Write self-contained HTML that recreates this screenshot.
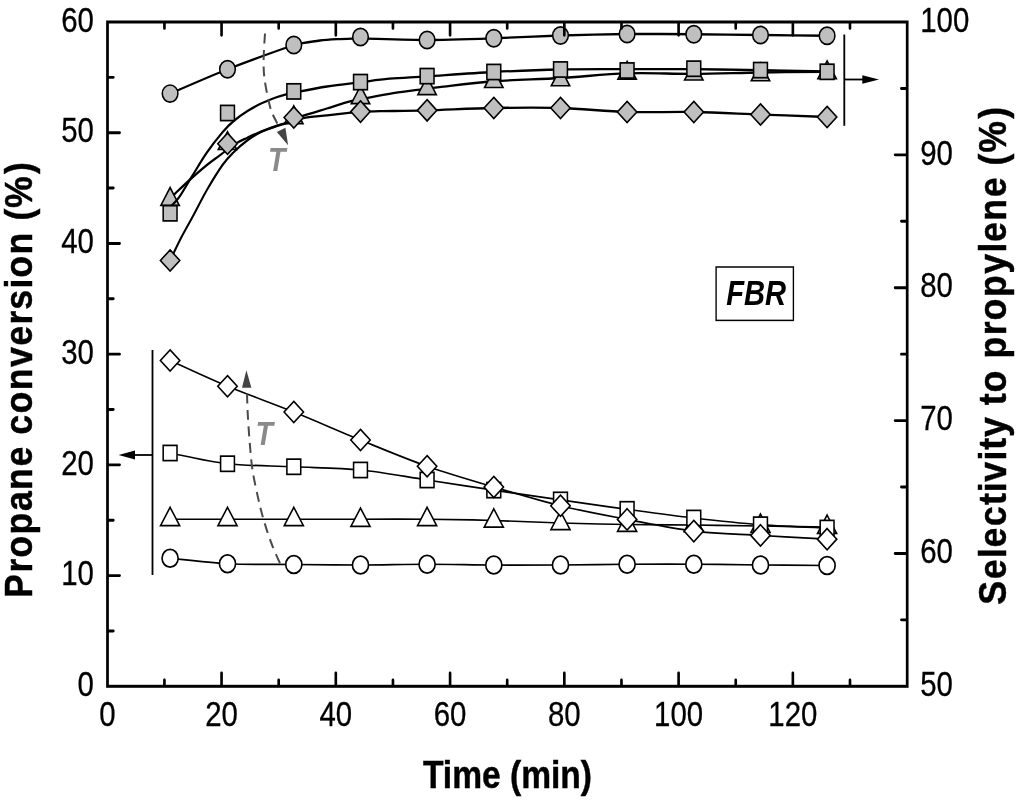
<!DOCTYPE html>
<html lang="en">
<head>
<meta charset="utf-8">
<title>Propane conversion and selectivity to propylene vs time (FBR)</title>
<style>
html,body{margin:0;padding:0;background:#fff;}
body{width:1024px;height:801px;overflow:hidden;}
svg text{font-family:"Liberation Sans",Arial,Helvetica,sans-serif;}
</style>
</head>
<body>
<svg width="1024" height="801" viewBox="0 0 1024 801" style="display:block">
<rect width="1024" height="801" fill="#fff"/>
<g transform="scale(0.91,1)">
<path d="M186.92 93.6 C194.28 90.76 234.14 74.92 250 69.25 C265.86 63.58 313.25 48.04 322.86 45 C332.46 41.96 328.95 43.73 332.31 43.2 C335.67 42.68 347.15 40.97 351.65 40.5 C356.15 40.03 366.75 39.42 370.88 39.2 C375.01 38.98 384.08 38.69 387.03 38.6 C389.98 38.51 386.55 38.24 396.15 38.4 C405.76 38.56 452.25 40.02 469.34 40 C486.43 39.98 525.53 38.77 542.64 38.25 C559.74 37.73 598.84 36 615.93 35.5 C633.02 35 672.03 34.15 689.12 34 C706.21 33.85 745.32 34.13 762.42 34.25 C779.52 34.37 818.62 34.83 835.71 35 C852.8 35.17 900.36 35.66 908.9 35.75" fill="none" stroke="#000" stroke-width="2.3" />
<circle cx="186.92" cy="93.6" r="8.6" fill="#bfbfbf" stroke="#000" stroke-width="1.7"/>
<circle cx="250" cy="69.25" r="8.6" fill="#bfbfbf" stroke="#000" stroke-width="1.7"/>
<circle cx="322.86" cy="45" r="8.6" fill="#bfbfbf" stroke="#000" stroke-width="1.7"/>
<circle cx="396.15" cy="37" r="8.6" fill="#bfbfbf" stroke="#000" stroke-width="1.7"/>
<circle cx="469.34" cy="40" r="8.6" fill="#bfbfbf" stroke="#000" stroke-width="1.7"/>
<circle cx="542.64" cy="38.25" r="8.6" fill="#bfbfbf" stroke="#000" stroke-width="1.7"/>
<circle cx="615.93" cy="35.5" r="8.6" fill="#bfbfbf" stroke="#000" stroke-width="1.7"/>
<circle cx="689.12" cy="34" r="8.6" fill="#bfbfbf" stroke="#000" stroke-width="1.7"/>
<circle cx="762.42" cy="34.25" r="8.6" fill="#bfbfbf" stroke="#000" stroke-width="1.7"/>
<circle cx="835.71" cy="35" r="8.6" fill="#bfbfbf" stroke="#000" stroke-width="1.7"/>
<circle cx="908.9" cy="35.75" r="8.6" fill="#bfbfbf" stroke="#000" stroke-width="1.7"/>
<path d="M186.92 198.5 C187.93 197.6 189.09 196.43 192.97 193.1 C196.84 189.77 204.43 183.18 210.16 178.5 C215.9 173.82 222.21 168.82 227.36 165 C232.52 161.18 235.66 159.25 241.1 155.6 C246.54 151.95 254.85 146.08 260 143.1 C265.15 140.12 267.4 139.65 271.98 137.7 C276.56 135.75 282.03 133.42 287.47 131.4 C292.91 129.38 299.47 127.18 304.62 125.6 C309.76 124.02 315.31 122.83 318.35 121.9 C321.39 120.97 320.35 121.03 322.86 120 C325.37 118.97 327.34 117.62 333.41 115.7 C339.47 113.78 350.49 110.92 359.23 108.5 C367.97 106.08 378.1 103 385.82 101.2 C393.55 99.4 398.59 98.93 405.6 97.7 C412.62 96.47 419.05 95.1 427.91 93.8 C436.78 92.5 449.63 91.02 458.79 89.9 C467.95 88.78 468.88 88.54 482.86 87.1 C496.83 85.66 520.46 82.77 542.64 81.25 C564.82 79.73 591.52 79.31 615.93 78 C640.35 76.69 664.71 74.1 689.12 73.4 C713.53 72.7 737.99 73.95 762.42 73.8 C786.85 73.65 811.3 72.83 835.71 72.5 C860.13 72.17 896.7 71.92 908.9 71.8" fill="none" stroke="#000" stroke-width="2.3" />
<path d="M186.92 187.5 L197.02 205.3 L176.82 205.3Z" fill="#bfbfbf" stroke="#000" stroke-width="1.7" stroke-linejoin="miter"/>
<path d="M250 131.7 L260.1 149.5 L239.9 149.5Z" fill="#bfbfbf" stroke="#000" stroke-width="1.7" stroke-linejoin="miter"/>
<path d="M322.86 105.8 L332.96 123.6 L312.76 123.6Z" fill="#bfbfbf" stroke="#000" stroke-width="1.7" stroke-linejoin="miter"/>
<path d="M396.15 85.9 L406.25 103.7 L386.05 103.7Z" fill="#bfbfbf" stroke="#000" stroke-width="1.7" stroke-linejoin="miter"/>
<path d="M469.34 76.8 L479.44 94.6 L459.24 94.6Z" fill="#bfbfbf" stroke="#000" stroke-width="1.7" stroke-linejoin="miter"/>
<path d="M542.64 69.7 L552.74 87.5 L532.54 87.5Z" fill="#bfbfbf" stroke="#000" stroke-width="1.7" stroke-linejoin="miter"/>
<path d="M615.93 67.95 L626.03 85.75 L605.83 85.75Z" fill="#bfbfbf" stroke="#000" stroke-width="1.7" stroke-linejoin="miter"/>
<path d="M689.12 61.45 L699.22 79.25 L679.02 79.25Z" fill="#bfbfbf" stroke="#000" stroke-width="1.7" stroke-linejoin="miter"/>
<path d="M762.42 62.2 L772.52 80 L752.32 80Z" fill="#bfbfbf" stroke="#000" stroke-width="1.7" stroke-linejoin="miter"/>
<path d="M835.71 62.95 L845.81 80.75 L825.61 80.75Z" fill="#bfbfbf" stroke="#000" stroke-width="1.7" stroke-linejoin="miter"/>
<path d="M908.9 60.95 L919 78.75 L898.8 78.75Z" fill="#bfbfbf" stroke="#000" stroke-width="1.7" stroke-linejoin="miter"/>
<path d="M186.92 207 C188.51 205.47 192.55 202.72 196.43 197.8 C200.3 192.88 205.01 185.05 210.16 177.5 C215.32 169.95 221.64 160.05 227.36 152.5 C233.09 144.95 239.65 137.41 244.51 132.2 C249.36 126.99 251.9 124.77 256.48 121.25 C261.06 117.73 266.81 114.09 271.98 111.1 C277.14 108.11 282.03 105.65 287.47 103.3 C292.91 100.95 300.04 98.52 304.62 97 C309.19 95.48 311.9 94.93 314.95 94.2 C317.99 93.47 315.48 93.88 322.86 92.6 C330.24 91.32 347.01 88.23 359.23 86.5 C371.45 84.77 384.71 83.5 396.15 82.2 C407.6 80.9 415.71 79.68 427.91 78.7 C440.11 77.72 450.22 77.42 469.34 76.3 C488.46 75.18 518.21 73.13 542.64 72 C567.07 70.87 591.52 69.97 615.93 69.5 C640.35 69.03 664.71 69.25 689.12 69.2 C713.53 69.15 737.99 69.03 762.42 69.2 C786.85 69.37 811.3 69.83 835.71 70.2 C860.13 70.57 896.7 71.2 908.9 71.4" fill="none" stroke="#000" stroke-width="2.3" />
<rect x="179.32" y="205.7" width="15.2" height="15.2" fill="#bfbfbf" stroke="#000" stroke-width="1.7"/>
<rect x="242.4" y="105.4" width="15.2" height="15.2" fill="#bfbfbf" stroke="#000" stroke-width="1.7"/>
<rect x="315.26" y="83.8" width="15.2" height="15.2" fill="#bfbfbf" stroke="#000" stroke-width="1.7"/>
<rect x="388.55" y="74.5" width="15.2" height="15.2" fill="#bfbfbf" stroke="#000" stroke-width="1.7"/>
<rect x="461.74" y="68.5" width="15.2" height="15.2" fill="#bfbfbf" stroke="#000" stroke-width="1.7"/>
<rect x="535.04" y="64.4" width="15.2" height="15.2" fill="#bfbfbf" stroke="#000" stroke-width="1.7"/>
<rect x="608.33" y="61.9" width="15.2" height="15.2" fill="#bfbfbf" stroke="#000" stroke-width="1.7"/>
<rect x="681.52" y="62.9" width="15.2" height="15.2" fill="#bfbfbf" stroke="#000" stroke-width="1.7"/>
<rect x="754.82" y="61.1" width="15.2" height="15.2" fill="#bfbfbf" stroke="#000" stroke-width="1.7"/>
<rect x="828.11" y="62.5" width="15.2" height="15.2" fill="#bfbfbf" stroke="#000" stroke-width="1.7"/>
<rect x="901.3" y="64.2" width="15.2" height="15.2" fill="#bfbfbf" stroke="#000" stroke-width="1.7"/>
<path d="M186.92 260.5 C188.92 256.75 194.6 245.58 198.9 238 C203.21 230.42 208 223 212.75 215 C217.49 207 222.07 198.33 227.36 190 C232.66 181.67 239.65 171.25 244.51 165 C249.36 158.75 251.9 156.62 256.48 152.5 C261.06 148.38 266.81 143.75 271.98 140.3 C277.14 136.85 282.03 134.2 287.47 131.8 C292.91 129.4 299.47 127.5 304.62 125.9 C309.76 124.3 314.91 123.22 318.35 122.2 C321.79 121.18 322.77 120.5 325.27 119.8 C327.78 119.1 327.73 118.75 333.41 118 C339.08 117.25 350.62 116.2 359.34 115.3 C368.06 114.4 379.58 113.18 385.71 112.6 C391.85 112.02 390.84 112.03 396.15 111.8 C401.47 111.57 405.38 111.43 417.58 111.2 C429.78 110.97 448.5 110.93 469.34 110.4 C490.18 109.87 518.21 108.4 542.64 108 C567.07 107.6 591.52 107.33 615.93 108 C640.35 108.67 664.71 111.33 689.12 112 C713.53 112.67 737.99 111.58 762.42 112 C786.85 112.42 811.3 113.67 835.71 114.5 C860.13 115.33 896.7 116.58 908.9 117" fill="none" stroke="#000" stroke-width="2.3" />
<path d="M186.92 249.85 L197.57 260.5 L186.92 271.15 L176.27 260.5Z" fill="#bfbfbf" stroke="#000" stroke-width="1.7" stroke-linejoin="miter"/>
<path d="M250 133.1 L260.65 143.75 L250 154.4 L239.35 143.75Z" fill="#bfbfbf" stroke="#000" stroke-width="1.7" stroke-linejoin="miter"/>
<path d="M322.86 106.85 L333.51 117.5 L322.86 128.15 L312.21 117.5Z" fill="#bfbfbf" stroke="#000" stroke-width="1.7" stroke-linejoin="miter"/>
<path d="M396.15 100.95 L406.8 111.6 L396.15 122.25 L385.5 111.6Z" fill="#bfbfbf" stroke="#000" stroke-width="1.7" stroke-linejoin="miter"/>
<path d="M469.34 99.65 L479.99 110.3 L469.34 120.95 L458.69 110.3Z" fill="#bfbfbf" stroke="#000" stroke-width="1.7" stroke-linejoin="miter"/>
<path d="M542.64 97.35 L553.29 108 L542.64 118.65 L531.99 108Z" fill="#bfbfbf" stroke="#000" stroke-width="1.7" stroke-linejoin="miter"/>
<path d="M615.93 97.35 L626.58 108 L615.93 118.65 L605.28 108Z" fill="#bfbfbf" stroke="#000" stroke-width="1.7" stroke-linejoin="miter"/>
<path d="M689.12 101.35 L699.77 112 L689.12 122.65 L678.47 112Z" fill="#bfbfbf" stroke="#000" stroke-width="1.7" stroke-linejoin="miter"/>
<path d="M762.42 101.35 L773.07 112 L762.42 122.65 L751.77 112Z" fill="#bfbfbf" stroke="#000" stroke-width="1.7" stroke-linejoin="miter"/>
<path d="M835.71 103.85 L846.36 114.5 L835.71 125.15 L825.06 114.5Z" fill="#bfbfbf" stroke="#000" stroke-width="1.7" stroke-linejoin="miter"/>
<path d="M908.9 106.35 L919.55 117 L908.9 127.65 L898.25 117Z" fill="#bfbfbf" stroke="#000" stroke-width="1.7" stroke-linejoin="miter"/>
<path d="M186.92 558.25 C197.44 559.17 227.34 562.71 250 563.75 C272.66 564.79 298.5 564.29 322.86 564.5 C347.22 564.71 371.74 565.04 396.15 565 C420.57 564.96 444.93 564.25 469.34 564.25 C493.75 564.25 518.21 564.88 542.64 565 C567.07 565.12 591.52 565.12 615.93 565 C640.35 564.88 664.71 564.38 689.12 564.25 C713.53 564.12 737.99 564.12 762.42 564.25 C786.85 564.38 811.3 564.79 835.71 565 C860.13 565.21 896.7 565.42 908.9 565.5" fill="none" stroke="#000" stroke-width="1.7" />
<circle cx="186.92" cy="558.25" r="8.85" fill="#fff" stroke="#000" stroke-width="1.8"/>
<circle cx="250" cy="563.75" r="8.85" fill="#fff" stroke="#000" stroke-width="1.8"/>
<circle cx="322.86" cy="564.5" r="8.85" fill="#fff" stroke="#000" stroke-width="1.8"/>
<circle cx="396.15" cy="565" r="8.85" fill="#fff" stroke="#000" stroke-width="1.8"/>
<circle cx="469.34" cy="564.25" r="8.85" fill="#fff" stroke="#000" stroke-width="1.8"/>
<circle cx="542.64" cy="565" r="8.85" fill="#fff" stroke="#000" stroke-width="1.8"/>
<circle cx="615.93" cy="565" r="8.85" fill="#fff" stroke="#000" stroke-width="1.8"/>
<circle cx="689.12" cy="564.25" r="8.85" fill="#fff" stroke="#000" stroke-width="1.8"/>
<circle cx="762.42" cy="564.25" r="8.85" fill="#fff" stroke="#000" stroke-width="1.8"/>
<circle cx="835.71" cy="565" r="8.85" fill="#fff" stroke="#000" stroke-width="1.8"/>
<circle cx="908.9" cy="565.5" r="8.85" fill="#fff" stroke="#000" stroke-width="1.8"/>
<path d="M186.92 519.25 C197.44 519.25 227.34 519.25 250 519.25 C272.66 519.25 298.5 519.25 322.86 519.25 C347.22 519.25 371.74 519.25 396.15 519.25 C420.57 519.25 444.93 519.04 469.34 519.25 C493.75 519.46 518.21 519.88 542.64 520.5 C567.07 521.12 591.52 522.33 615.93 523 C640.35 523.67 664.71 524.17 689.12 524.5 C713.53 524.83 737.99 524.75 762.42 525 C786.85 525.25 811.3 525.67 835.71 526 C860.13 526.33 896.7 526.83 908.9 527" fill="none" stroke="#000" stroke-width="1.7" />
<path d="M186.92 507.3 L197.42 525.7 L176.42 525.7Z" fill="#fff" stroke="#000" stroke-width="1.7" stroke-linejoin="miter"/>
<path d="M250 507.3 L260.5 525.7 L239.5 525.7Z" fill="#fff" stroke="#000" stroke-width="1.7" stroke-linejoin="miter"/>
<path d="M322.86 507.3 L333.36 525.7 L312.36 525.7Z" fill="#fff" stroke="#000" stroke-width="1.7" stroke-linejoin="miter"/>
<path d="M396.15 508.05 L406.65 526.45 L385.65 526.45Z" fill="#fff" stroke="#000" stroke-width="1.7" stroke-linejoin="miter"/>
<path d="M469.34 507.3 L479.84 525.7 L458.84 525.7Z" fill="#fff" stroke="#000" stroke-width="1.7" stroke-linejoin="miter"/>
<path d="M542.64 508.8 L553.14 527.2 L532.14 527.2Z" fill="#fff" stroke="#000" stroke-width="1.7" stroke-linejoin="miter"/>
<path d="M615.93 511.3 L626.43 529.7 L605.43 529.7Z" fill="#fff" stroke="#000" stroke-width="1.7" stroke-linejoin="miter"/>
<path d="M689.12 513.05 L699.62 531.45 L678.62 531.45Z" fill="#fff" stroke="#000" stroke-width="1.7" stroke-linejoin="miter"/>
<path d="M762.42 513.3 L772.92 531.7 L751.92 531.7Z" fill="#fff" stroke="#000" stroke-width="1.7" stroke-linejoin="miter"/>
<path d="M835.71 514.05 L846.21 532.45 L825.21 532.45Z" fill="#fff" stroke="#000" stroke-width="1.7" stroke-linejoin="miter"/>
<path d="M908.9 515.05 L919.4 533.45 L898.4 533.45Z" fill="#fff" stroke="#000" stroke-width="1.7" stroke-linejoin="miter"/>
<path d="M186.92 453 C197.44 454.79 227.34 461.46 250 463.75 C272.66 466.04 298.5 465.71 322.86 466.75 C347.22 467.79 371.74 467.79 396.15 470 C420.57 472.21 444.93 476.65 469.34 480 C493.75 483.35 518.21 486.78 542.64 490.1 C567.07 493.42 591.52 496.7 615.93 499.9 C640.35 503.1 664.71 506.28 689.12 509.3 C713.53 512.32 737.99 515.43 762.42 518 C786.85 520.57 811.3 523.03 835.71 524.7 C860.13 526.37 896.7 527.45 908.9 528" fill="none" stroke="#000" stroke-width="1.7" />
<rect x="179.32" y="445.4" width="15.2" height="15.2" fill="#fff" stroke="#000" stroke-width="1.7"/>
<rect x="242.4" y="456.15" width="15.2" height="15.2" fill="#fff" stroke="#000" stroke-width="1.7"/>
<rect x="315.26" y="459.15" width="15.2" height="15.2" fill="#fff" stroke="#000" stroke-width="1.7"/>
<rect x="388.55" y="462.4" width="15.2" height="15.2" fill="#fff" stroke="#000" stroke-width="1.7"/>
<rect x="461.74" y="472.4" width="15.2" height="15.2" fill="#fff" stroke="#000" stroke-width="1.7"/>
<rect x="535.04" y="482.5" width="15.2" height="15.2" fill="#fff" stroke="#000" stroke-width="1.7"/>
<rect x="608.33" y="492.3" width="15.2" height="15.2" fill="#fff" stroke="#000" stroke-width="1.7"/>
<rect x="681.52" y="501.7" width="15.2" height="15.2" fill="#fff" stroke="#000" stroke-width="1.7"/>
<rect x="754.82" y="510.4" width="15.2" height="15.2" fill="#fff" stroke="#000" stroke-width="1.7"/>
<rect x="828.11" y="517.1" width="15.2" height="15.2" fill="#fff" stroke="#000" stroke-width="1.7"/>
<rect x="901.3" y="520.4" width="15.2" height="15.2" fill="#fff" stroke="#000" stroke-width="1.7"/>
<path d="M186.92 360.5 C197.44 364.79 227.34 377.67 250 386.25 C272.66 394.83 298.5 403.04 322.86 412 C347.22 420.96 371.74 430.96 396.15 440 C420.57 449.04 444.93 458.42 469.34 466.25 C493.75 474.08 518.21 480.42 542.64 487 C567.07 493.58 591.52 500.35 615.93 505.75 C640.35 511.15 664.71 515.17 689.12 519.4 C713.53 523.62 737.99 528.43 762.42 531.1 C786.85 533.77 811.3 534.05 835.71 535.4 C860.13 536.75 896.7 538.57 908.9 539.2" fill="none" stroke="#000" stroke-width="1.7" />
<path d="M186.92 349.85 L197.57 360.5 L186.92 371.15 L176.27 360.5Z" fill="#fff" stroke="#000" stroke-width="1.7" stroke-linejoin="miter"/>
<path d="M250 375.6 L260.65 386.25 L250 396.9 L239.35 386.25Z" fill="#fff" stroke="#000" stroke-width="1.7" stroke-linejoin="miter"/>
<path d="M322.86 401.35 L333.51 412 L322.86 422.65 L312.21 412Z" fill="#fff" stroke="#000" stroke-width="1.7" stroke-linejoin="miter"/>
<path d="M396.15 429.35 L406.8 440 L396.15 450.65 L385.5 440Z" fill="#fff" stroke="#000" stroke-width="1.7" stroke-linejoin="miter"/>
<path d="M469.34 455.6 L479.99 466.25 L469.34 476.9 L458.69 466.25Z" fill="#fff" stroke="#000" stroke-width="1.7" stroke-linejoin="miter"/>
<path d="M542.64 476.35 L553.29 487 L542.64 497.65 L531.99 487Z" fill="#fff" stroke="#000" stroke-width="1.7" stroke-linejoin="miter"/>
<path d="M615.93 495.1 L626.58 505.75 L615.93 516.4 L605.28 505.75Z" fill="#fff" stroke="#000" stroke-width="1.7" stroke-linejoin="miter"/>
<path d="M689.12 508.75 L699.77 519.4 L689.12 530.05 L678.47 519.4Z" fill="#fff" stroke="#000" stroke-width="1.7" stroke-linejoin="miter"/>
<path d="M762.42 520.45 L773.07 531.1 L762.42 541.75 L751.77 531.1Z" fill="#fff" stroke="#000" stroke-width="1.7" stroke-linejoin="miter"/>
<path d="M835.71 524.75 L846.36 535.4 L835.71 546.05 L825.06 535.4Z" fill="#fff" stroke="#000" stroke-width="1.7" stroke-linejoin="miter"/>
<path d="M908.9 528.55 L919.55 539.2 L908.9 549.85 L898.25 539.2Z" fill="#fff" stroke="#000" stroke-width="1.7" stroke-linejoin="miter"/>
<path d="M927.8 34.5 V125.8" stroke="#000" stroke-width="2" fill="none"/>
<path d="M927.8 79.5 H949.45" stroke="#000" stroke-width="1.8" fill="none"/>
<path d="M965.93 79.5 L947.58 75.3 L947.58 83.7Z" fill="#000"/>
<path d="M167.58 350 V575" stroke="#000" stroke-width="2" fill="none"/>
<path d="M167.58 455 H146.15" stroke="#000" stroke-width="1.8" fill="none"/>
<path d="M130.33 455 L148.35 450.5 L148.35 459.5Z" fill="#000"/>
<path d="M291.21 33.5 C291.01 36.42 290.26 45.75 290 51 C289.74 56.25 289.58 60.5 289.67 65 C289.76 69.5 289.93 73.33 290.55 78 C291.17 82.67 292.2 87.67 293.41 93 C294.62 98.33 296.15 105.33 297.8 110 C299.45 114.67 301.74 118.17 303.3 121 C304.85 123.83 306.5 126 307.14 127" fill="none" stroke="#4a4a4a" stroke-width="2.2" stroke-dasharray="10 6.5"/>
<path d="M316.59 145.2 L313.63 127.8 L304.18 132Z" fill="#444"/>
<path d="M271.43 393.5 C271.58 397.08 271.81 406.85 272.31 415 C272.8 423.15 273.53 433.23 274.4 442.4 C275.26 451.57 275.95 460.83 277.47 470 C278.99 479.17 281.5 489.18 283.52 497.4 C285.53 505.62 287.05 511.53 289.56 519.3 C292.07 527.07 295.26 536.05 298.57 544 C301.89 551.95 307.64 563.17 309.45 567" fill="none" stroke="#4a4a4a" stroke-width="2.2" stroke-dasharray="10 6.5"/>
<path d="M270.77 370.2 L276.26 387.7 L265.93 387.7Z" fill="#444"/>
<text transform="translate(304.07,170.9) scale(0.95,1)" font-family="Liberation Sans, Arial, sans-serif" font-size="33" text-anchor="middle" font-weight="bold" font-style="italic" fill="#8a8a8a">T</text>
<text transform="translate(290.22,445.2) scale(0.95,1)" font-family="Liberation Sans, Arial, sans-serif" font-size="33" text-anchor="middle" font-weight="bold" font-style="italic" fill="#8a8a8a">T</text>
<rect x="786.92" y="267" width="84.95" height="53.4" fill="#fff" stroke="#000" stroke-width="1.5"/>
<text transform="translate(830.88,305) scale(0.915,1)" font-family="Liberation Sans, Arial, sans-serif" font-size="35" text-anchor="middle" font-weight="bold" font-style="italic">FBR</text>
<path d="M180.69 685.3 v-5.4 M180.69 23 v5.4 M243.47 685.3 v-12.3 M243.47 23 v12.3 M306.25 685.3 v-5.4 M306.25 23 v5.4 M369.03 685.3 v-12.3 M369.03 23 v12.3 M431.81 685.3 v-5.4 M431.81 23 v5.4 M494.59 685.3 v-12.3 M494.59 23 v12.3 M557.37 685.3 v-5.4 M557.37 23 v5.4 M620.15 685.3 v-12.3 M620.15 23 v12.3 M682.93 685.3 v-5.4 M682.93 23 v5.4 M745.71 685.3 v-12.3 M745.71 23 v12.3 M808.49 685.3 v-5.4 M808.49 23 v5.4 M871.27 685.3 v-12.3 M871.27 23 v12.3 M934.05 685.3 v-5.4 M934.05 23 v5.4 M119.13 630.94 h5.4 M119.13 575.58 h12.3 M119.13 520.22 h5.4 M119.13 464.87 h12.3 M119.13 409.51 h5.4 M119.13 354.15 h12.3 M119.13 298.79 h5.4 M119.13 243.43 h12.3 M119.13 188.07 h5.4 M119.13 132.72 h12.3 M119.13 77.36 h5.4 M995.92 619.87 h-5.4 M995.92 553.44 h-12.3 M995.92 487.01 h-5.4 M995.92 420.58 h-12.3 M995.92 354.15 h-5.4 M995.92 287.72 h-12.3 M995.92 221.29 h-5.4 M995.92 154.86 h-12.3 M995.92 88.43 h-5.4" stroke="#000" stroke-width="2.9" fill="none" stroke-linecap="round"/>
<rect x="118.13" y="22" width="878.79" height="664.3" fill="none" stroke="#000" stroke-width="3.0"/>
<text transform="translate(117.91,725.5) scale(0.945,1)" font-family="Liberation Sans, Arial, sans-serif" font-size="34.2" text-anchor="middle" stroke="#000" stroke-width="0.3">0</text>
<text transform="translate(243.47,725.5) scale(0.945,1)" font-family="Liberation Sans, Arial, sans-serif" font-size="34.2" text-anchor="middle" stroke="#000" stroke-width="0.3">20</text>
<text transform="translate(369.03,725.5) scale(0.945,1)" font-family="Liberation Sans, Arial, sans-serif" font-size="34.2" text-anchor="middle" stroke="#000" stroke-width="0.3">40</text>
<text transform="translate(494.59,725.5) scale(0.945,1)" font-family="Liberation Sans, Arial, sans-serif" font-size="34.2" text-anchor="middle" stroke="#000" stroke-width="0.3">60</text>
<text transform="translate(620.15,725.5) scale(0.945,1)" font-family="Liberation Sans, Arial, sans-serif" font-size="34.2" text-anchor="middle" stroke="#000" stroke-width="0.3">80</text>
<text transform="translate(745.71,725.5) scale(0.945,1)" font-family="Liberation Sans, Arial, sans-serif" font-size="34.2" text-anchor="middle" stroke="#000" stroke-width="0.3">100</text>
<text transform="translate(871.27,725.5) scale(0.945,1)" font-family="Liberation Sans, Arial, sans-serif" font-size="34.2" text-anchor="middle" stroke="#000" stroke-width="0.3">120</text>
<text transform="translate(103.19,696) scale(0.945,1)" font-family="Liberation Sans, Arial, sans-serif" font-size="34.2" text-anchor="end" stroke="#000" stroke-width="0.3">0</text>
<text transform="translate(103.19,585.28) scale(0.945,1)" font-family="Liberation Sans, Arial, sans-serif" font-size="34.2" text-anchor="end" stroke="#000" stroke-width="0.3">10</text>
<text transform="translate(103.19,474.57) scale(0.945,1)" font-family="Liberation Sans, Arial, sans-serif" font-size="34.2" text-anchor="end" stroke="#000" stroke-width="0.3">20</text>
<text transform="translate(103.19,363.85) scale(0.945,1)" font-family="Liberation Sans, Arial, sans-serif" font-size="34.2" text-anchor="end" stroke="#000" stroke-width="0.3">30</text>
<text transform="translate(103.19,253.13) scale(0.945,1)" font-family="Liberation Sans, Arial, sans-serif" font-size="34.2" text-anchor="end" stroke="#000" stroke-width="0.3">40</text>
<text transform="translate(103.19,142.42) scale(0.945,1)" font-family="Liberation Sans, Arial, sans-serif" font-size="34.2" text-anchor="end" stroke="#000" stroke-width="0.3">50</text>
<text transform="translate(103.19,31.7) scale(0.945,1)" font-family="Liberation Sans, Arial, sans-serif" font-size="34.2" text-anchor="end" stroke="#000" stroke-width="0.3">60</text>
<text transform="translate(1011.21,696) scale(0.945,1)" font-family="Liberation Sans, Arial, sans-serif" font-size="34.2" text-anchor="start" stroke="#000" stroke-width="0.3">50</text>
<text transform="translate(1011.21,563.14) scale(0.945,1)" font-family="Liberation Sans, Arial, sans-serif" font-size="34.2" text-anchor="start" stroke="#000" stroke-width="0.3">60</text>
<text transform="translate(1011.21,430.28) scale(0.945,1)" font-family="Liberation Sans, Arial, sans-serif" font-size="34.2" text-anchor="start" stroke="#000" stroke-width="0.3">70</text>
<text transform="translate(1011.21,297.42) scale(0.945,1)" font-family="Liberation Sans, Arial, sans-serif" font-size="34.2" text-anchor="start" stroke="#000" stroke-width="0.3">80</text>
<text transform="translate(1011.21,164.56) scale(0.945,1)" font-family="Liberation Sans, Arial, sans-serif" font-size="34.2" text-anchor="start" stroke="#000" stroke-width="0.3">90</text>
<text transform="translate(1011.21,31.7) scale(0.945,1)" font-family="Liberation Sans, Arial, sans-serif" font-size="34.2" text-anchor="start" stroke="#000" stroke-width="0.3">100</text>
<text transform="translate(557.69,788) scale(0.971,1)" font-family="Liberation Sans, Arial, sans-serif" font-size="38" text-anchor="middle" font-weight="bold" stroke="#000" stroke-width="0.45">Time (min)</text>
</g>
<text transform="translate(32.3,598) rotate(-90) scale(0.94,1)" x="0 27.07 42.87 67.66 92.45 115.02 139.82 162.39 173.67 196.24 221.03 245.82 268.4 290.97 306.76 329.34 340.61 365.41 390.2 401.47 414.99 451.08" y="0" font-family="Liberation Sans, Arial, sans-serif" font-size="38" font-weight="bold" text-anchor="start" stroke="#000" stroke-width="0.45">Propane conversion (%)</text>
<text transform="translate(1006.4,604.8) rotate(-90) scale(0.94,1)" x="0 27.1 49.69 60.98 83.58 106.17 119.7 130.99 153.58 164.87 178.4 201 212.28 225.81 250.63 261.92 286.74 302.55 327.36 352.18 374.78 386.06 408.66 433.48 456.07 467.36 480.89 517.01" y="0" font-family="Liberation Sans, Arial, sans-serif" font-size="38" font-weight="bold" text-anchor="start" stroke="#000" stroke-width="0.45">Selectivity to propylene (%)</text>
</svg>
</body>
</html>
